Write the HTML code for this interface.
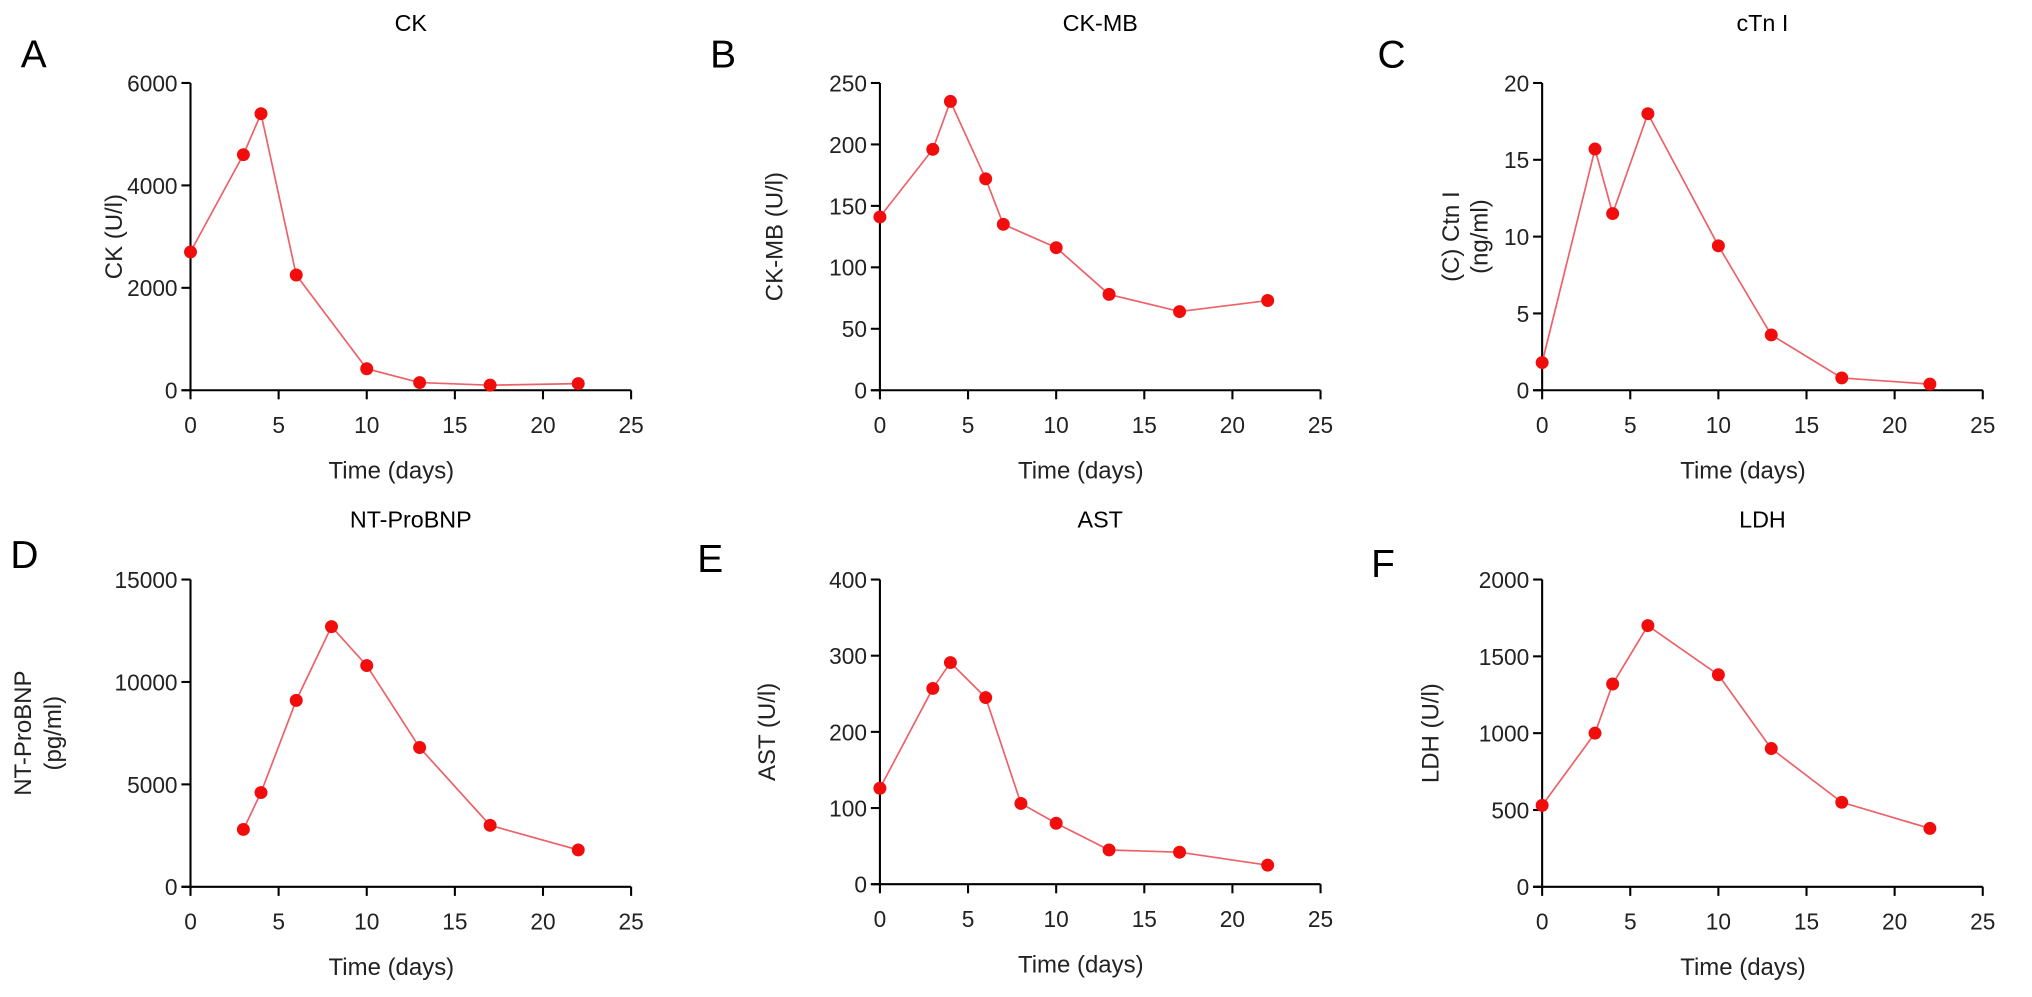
<!DOCTYPE html>
<html><head><meta charset="utf-8"><style>
html,body{margin:0;padding:0;background:#fff;}
svg{display:block;font-family:"Liberation Sans",Arial,sans-serif;}
</style></head><body>
<svg id="fig" width="2032" height="997" viewBox="0 0 1568 769" preserveAspectRatio="none" xmlns="http://www.w3.org/2000/svg"></svg>
<script>
const ckDays=[0,3,4,6,10,13,17,22];
const ckVals=[2700,4600,5400,2250,420,150,100,130];
const ckmbDays=[0,3,4,6,7,10,13,17,22];
const ckmbVals=[141,196,235,172,135,116,78,64,73];
const ctnDays=[0,3,4,6,10,13,17,22];
const ctnVals=[1.8,15.7,11.5,18,9.4,3.6,0.8,0.4];
const bnpDays=[3,4,6,8,10,13,17,22];
const bnpVals=[2800,4600,9100,12700,10800,6800,3000,1800];
const astDays=[0,3,4,6,8,10,13,17,22];
const astVals=[126,257,291,245,106,80,45,42,25];
const ldhDays=[0,3,4,6,10,13,17,22];
const ldhVals=[530,1000,1320,1700,1380,900,550,380];
const xTicks=[0,5,10,15,20,25];
const ckTicks=[0,2000,4000,6000];
const ckmbTicks=[0,50,100,150,200,250];
const ctnTicks=[0,5,10,15,20];
const bnpTicks=[0,5000,10000,15000];
const astTicks=[0,100,200,300,400];
const ldhTicks=[0,500,1000,1500,2000];

const NS="http://www.w3.org/2000/svg";
const svg=document.getElementById('fig');
function mk(tag,attrs,parent,text){const e=document.createElementNS(NS,tag);for(const k in attrs)e.setAttribute(k,attrs[k]);if(text!==undefined)e.textContent=text;(parent||svg).appendChild(e);return e;}

const panels=[
 {id:'ck',letter:'A',lx:16,ly:52,title:'CK',x0:147,ytop:64,ybot:301,ymax:6000,days:ckDays,vals:ckVals,ticks:ckTicks,ylab:['CK (U/l)'],ylx:[94]},
 {id:'ckmb',letter:'B',lx:548,ly:52,title:'CK-MB',x0:679,ytop:64,ybot:301,ymax:250,days:ckmbDays,vals:ckmbVals,ticks:ckmbTicks,ylab:['CK-MB (U/l)'],ylx:[604]},
 {id:'ctni',letter:'C',lx:1063,ly:52,title:'cTn I',x0:1190,ytop:64,ybot:301,ymax:20,days:ctnDays,vals:ctnVals,ticks:ctnTicks,ylab:['(C) Ctn I','(ng/ml)'],ylx:[1126,1148]},
 {id:'ntprobnp',letter:'D',lx:8,ly:438,title:'NT-ProBNP',x0:147,ytop:447,ybot:684,ymax:15000,days:bnpDays,vals:bnpVals,ticks:bnpTicks,ylab:['NT-ProBNP','(pg/ml)'],ylx:[24,47]},
 {id:'ast',letter:'E',lx:538,ly:441,title:'AST',x0:679,ytop:447,ybot:682,ymax:400,days:astDays,vals:astVals,ticks:astTicks,ylab:['AST (U/l)'],ylx:[598]},
 {id:'ldh',letter:'F',lx:1058,ly:445,title:'LDH',x0:1190,ytop:447,ybot:684,ymax:2000,days:ldhDays,vals:ldhVals,ticks:ldhTicks,ylab:['LDH (U/l)'],ylx:[1110]}
];
const XW=340, XMAX=25;

panels.forEach(p=>{
 const g=mk('g',{});
 
 
 const xs=d=>p.x0+d/XMAX*XW;
 const ys=v=>p.ybot-v/p.ymax*(p.ybot-p.ytop);
 const cx=p.x0+XW/2;
 const L=mk('text',{x:p.lx,y:p.ly,'font-size':30,fill:'#000'},g,p.letter);
 
 
 const T=mk('text',{x:cx,y:p.ytop-40,'font-size':18,'text-anchor':'middle',fill:'#000'},g,p.title);
 
 
 const ya=mk('line',{x1:p.x0,y1:p.ytop,x2:p.x0,y2:p.ybot,stroke:'#000','stroke-width':1.6},g);
 
 
 const xa=mk('line',{x1:p.x0-7,y1:p.ybot,x2:p.x0+XW,y2:p.ybot,stroke:'#000','stroke-width':1.6},g);
 
 
 xTicks.forEach(t=>{
  mk('line',{x1:xs(t),y1:p.ybot,x2:xs(t),y2:p.ybot+7,stroke:'#000','stroke-width':1.6},g);
  const tl=mk('text',{x:xs(t),y:p.ybot+33,'font-size':17.5,'text-anchor':'middle',fill:'#222'},g,String(t));
  
  
 });
 p.ticks.forEach(t=>{
  mk('line',{x1:p.x0-7,y1:ys(t),x2:p.x0,y2:ys(t),stroke:'#000','stroke-width':1.6},g);
  const tl=mk('text',{x:p.x0-10,y:ys(t)+6.5,'font-size':17.5,'text-anchor':'end',fill:'#222'},g,String(t));
  
  
 });
 const xt=mk('text',{x:cx-15,y:p.ybot+68,'font-size':18.5,'text-anchor':'middle',fill:'#222'},g,'Time (days)');
 
 
 p.ylab.forEach((s,i)=>{
  const yc=(p.ytop+p.ybot)/2;
  const yt=mk('text',{x:p.ylx[i],y:yc,'font-size':18.5,'text-anchor':'middle',fill:'#222',transform:`rotate(-90 ${p.ylx[i]} ${yc})`},g,s);
  
  
 });
 const pts=p.days.map((d,i)=>xs(d).toFixed(1)+','+ys(p.vals[i]).toFixed(1)).join(' ');
 const line=mk('polyline',{points:pts,fill:'none',stroke:'#ec6168','stroke-width':1.3},g);
 
 
 p.days.forEach((d,i)=>{
  const c=mk('circle',{cx:xs(d),cy:ys(p.vals[i]),r:5,fill:'#f20d0d'},g);
  
  
 });
});
</script>
</body></html>
